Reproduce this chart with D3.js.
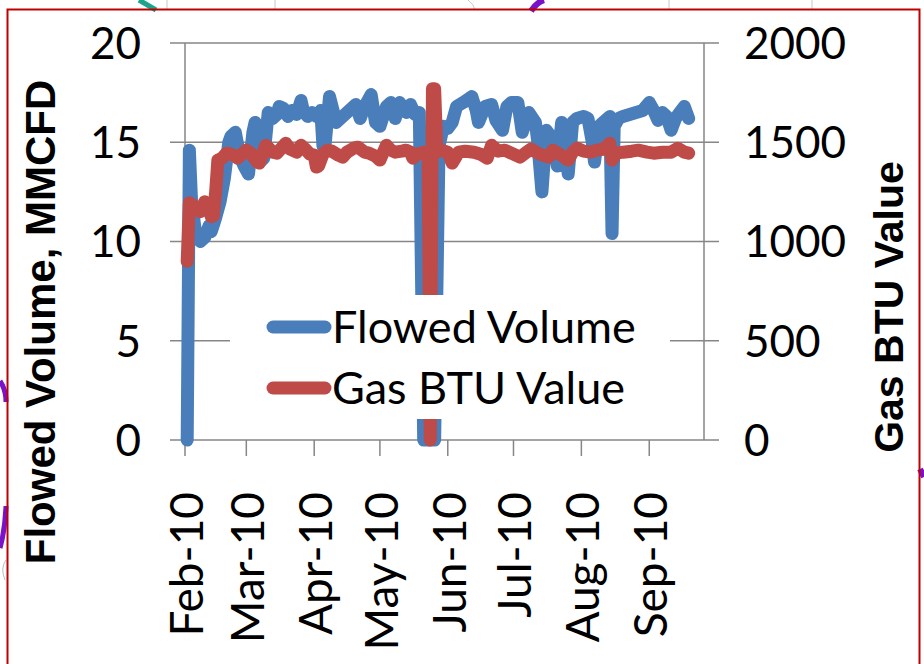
<!DOCTYPE html>
<html>
<head>
<meta charset="utf-8">
<script src="https://cdn.jsdelivr.net/npm/d3@7"></script>
<style>
  html, body { margin: 0; padding: 0; background: #fff; }
  svg { display: block; }
</style>
</head>
<body>
<svg id="chart" width="924" height="664"></svg>
<script>
// ---------------- DATA ----------------
const seriesNames = ["Flowed Volume", "Gas BTU Value"];
const leftTicks = [0, 5, 10, 15, 20];
const rightTicks = [0, 500, 1000, 1500, 2000];
const monthTicks = ["2010-02-01","2010-03-01","2010-04-01","2010-05-01","2010-06-01","2010-07-01","2010-08-01","2010-09-01"];
const xDomain = ["2010-02-01", "2010-09-26"];

const volumeDates = ["2010-02-02","2010-02-03","2010-02-04","2010-02-06","2010-02-08","2010-02-10","2010-02-12","2010-02-13","2010-02-15","2010-02-17","2010-02-19","2010-02-21","2010-02-22","2010-02-24","2010-02-26","2010-02-28","2010-03-02","2010-03-04","2010-03-05","2010-03-07","2010-03-09","2010-03-11","2010-03-13","2010-03-15","2010-03-16","2010-03-18","2010-03-20","2010-03-22","2010-03-24","2010-03-26","2010-03-27","2010-03-29","2010-03-31","2010-04-02","2010-04-04","2010-04-05","2010-04-06","2010-04-08","2010-04-11","2010-04-14","2010-04-17","2010-04-20","2010-04-22","2010-04-24","2010-04-27","2010-04-29","2010-05-01","2010-05-04","2010-05-06","2010-05-08","2010-05-10","2010-05-13","2010-05-15","2010-05-17","2010-05-19","2010-05-21","2010-05-26","2010-05-28","2010-05-30","2010-06-01","2010-06-03","2010-06-05","2010-06-08","2010-06-12","2010-06-14","2010-06-15","2010-06-18","2010-06-21","2010-06-23","2010-06-26","2010-06-28","2010-06-30","2010-07-03","2010-07-05","2010-07-08","2010-07-11","2010-07-12","2010-07-14","2010-07-16","2010-07-18","2010-07-20","2010-07-21","2010-07-23","2010-07-25","2010-07-26","2010-07-28","2010-07-30","2010-08-02","2010-08-04","2010-08-06","2010-08-07","2010-08-09","2010-08-11","2010-08-14","2010-08-15","2010-08-16","2010-08-18","2010-08-20","2010-08-23","2010-08-26","2010-08-29","2010-09-01","2010-09-03","2010-09-05","2010-09-07","2010-09-09","2010-09-11","2010-09-13","2010-09-15","2010-09-17","2010-09-19"];
const volumeValues = [0,14.6,12.0,10.3,10.0,10.2,10.8,10.5,11.2,12.0,13.2,15.0,15.3,15.5,14.3,13.8,13.4,15.5,16.0,14.0,14.2,16.5,16.2,16.4,16.8,16.7,16.3,16.6,16.4,17.1,16.6,16.3,16.5,16.3,16.6,14.8,14.9,17.3,16.0,16.3,16.6,16.9,16.2,16.8,17.4,16.0,15.8,16.8,17.0,16.2,17.0,16.5,16.9,16.4,16.5,0,0,14.8,15.8,15.7,16.0,16.8,17.0,17.3,16.6,16.0,16.8,16.9,16.1,15.6,16.8,17.0,17.0,15.5,16.5,16.0,15.1,12.5,15.6,15.3,15.0,13.8,16.0,14.5,13.4,16.0,16.2,16.3,16.2,15.0,14.0,15.8,16.0,16.3,10.4,15.8,16.2,16.3,16.4,16.5,16.6,17.0,16.6,16.1,16.5,16.3,15.6,16.2,16.5,16.8,16.2];

const btuDates = ["2010-02-02","2010-02-03","2010-02-05","2010-02-07","2010-02-08","2010-02-10","2010-02-12","2010-02-13","2010-02-14","2010-02-15","2010-02-16","2010-02-18","2010-02-20","2010-02-22","2010-02-24","2010-02-25","2010-02-27","2010-03-01","2010-03-03","2010-03-06","2010-03-07","2010-03-09","2010-03-10","2010-03-13","2010-03-15","2010-03-17","2010-03-19","2010-03-21","2010-03-24","2010-03-26","2010-03-28","2010-03-30","2010-04-01","2010-04-02","2010-04-03","2010-04-05","2010-04-07","2010-04-09","2010-04-12","2010-04-14","2010-04-16","2010-04-19","2010-04-21","2010-04-24","2010-04-26","2010-04-29","2010-05-01","2010-05-04","2010-05-06","2010-05-08","2010-05-11","2010-05-13","2010-05-15","2010-05-16","2010-05-18","2010-05-21","2010-05-23","2010-05-24","2010-05-25","2010-05-26","2010-05-27","2010-05-29","2010-06-01","2010-06-03","2010-06-06","2010-06-09","2010-06-13","2010-06-16","2010-06-19","2010-06-21","2010-06-24","2010-06-27","2010-07-01","2010-07-04","2010-07-07","2010-07-09","2010-07-13","2010-07-17","2010-07-19","2010-07-22","2010-07-26","2010-07-28","2010-07-30","2010-08-02","2010-08-05","2010-08-08","2010-08-11","2010-08-14","2010-08-15","2010-08-17","2010-08-20","2010-08-24","2010-08-27","2010-08-31","2010-09-03","2010-09-07","2010-09-11","2010-09-14","2010-09-17","2010-09-19"];
const btuValues = [900,1195,1180,1160,1150,1200,1160,1125,1130,1250,1410,1420,1445,1440,1430,1420,1440,1460,1445,1400,1395,1460,1485,1450,1445,1470,1495,1465,1450,1485,1465,1440,1435,1375,1380,1440,1460,1455,1435,1425,1450,1470,1475,1450,1445,1430,1410,1485,1460,1450,1455,1460,1450,1420,1440,1450,1445,0,1770,1770,1450,1460,1450,1395,1450,1455,1450,1440,1420,1485,1455,1460,1440,1425,1450,1465,1440,1425,1460,1440,1410,1450,1470,1455,1450,1460,1465,1495,1410,1445,1450,1455,1460,1450,1445,1450,1450,1470,1450,1445];

// ---------------- CHART ----------------
const svg = d3.select("#chart");
const parse = d3.utcParse("%Y-%m-%d");
const W = 924, H = 664;
const plot = { left: 185, right: 704, top: 43, bottom: 440 };
const blue = "#4a7ebb", red = "#be4b48", grid = "#868686";
const labelFont = "Lato, 'Open Sans', sans-serif";
const titleFont = "'Liberation Sans', Arial, sans-serif";
const lineW = 13;

const x = d3.scaleUtc().domain(xDomain.map(parse)).range([plot.left, plot.right]);
const yL = d3.scaleLinear().domain([0, 20]).range([plot.bottom, plot.top]);
const yR = d3.scaleLinear().domain([0, 2000]).range([plot.bottom, plot.top]);

svg.append("rect").attr("width", W).attr("height", H).attr("fill", "#fff");

// background decorations (pieces of neighbouring slide content)
const deco = svg.append("g").attr("fill", "none");
[167, 275, 669, 812].forEach(px => deco.append("line").attr("x1", px).attr("x2", px).attr("y1", 0).attr("y2", 10).attr("stroke", "#c8c8c8").attr("stroke-width", 1));
deco.append("path").attr("d", "M468,0 Q474,4 475,10").attr("stroke", "#c8c8c8").attr("stroke-width", 1);
deco.append("path").attr("d", "M139,0 L156,10").attr("stroke", "#1aa58c").attr("stroke-width", 5);
deco.append("path").attr("d", "M531,11 Q537,2 544,0").attr("stroke", "#7a12c6").attr("stroke-width", 6);
deco.append("path").attr("d", "M0,381 Q6,390 6,402").attr("stroke", "#7a12c6").attr("stroke-width", 5);
deco.append("path").attr("d", "M6,506 Q5,530 0,548").attr("stroke", "#7a12c6").attr("stroke-width", 5);
deco.append("path").attr("d", "M6,560 Q0,568 5,580").attr("stroke", "#bbbbbb").attr("stroke-width", 1);
deco.append("path").attr("d", "M920,469 L924,477").attr("stroke", "#7a12c6").attr("stroke-width", 6);

// frame
svg.append("path")
  .attr("d", `M7.5,${H + 2} V9.5 H919.5 V${H + 2}`)
  .attr("fill", "none").attr("stroke", "#c00000").attr("stroke-width", 2);

// horizontal gridlines with outward ticks on both sides
svg.append("g").selectAll("line").data(leftTicks).join("line")
  .attr("x1", plot.left - 15).attr("x2", plot.right + 15)
  .attr("y1", d => yL(d)).attr("y2", d => yL(d))
  .attr("stroke", grid).attr("stroke-width", 1.5);

// vertical axes
svg.append("line").attr("x1", plot.left).attr("x2", plot.left).attr("y1", plot.top).attr("y2", plot.bottom)
  .attr("stroke", grid).attr("stroke-width", 1.5);
svg.append("line").attr("x1", plot.right).attr("x2", plot.right).attr("y1", plot.top).attr("y2", plot.bottom)
  .attr("stroke", grid).attr("stroke-width", 1.5);

// x-axis month ticks
const monthDates = monthTicks.map(parse);
svg.append("g").selectAll("line").data(monthDates).join("line")
  .attr("x1", d => x(d)).attr("x2", d => x(d))
  .attr("y1", plot.bottom).attr("y2", plot.bottom + 16)
  .attr("stroke", grid).attr("stroke-width", 1.5);

// left tick labels
svg.append("g").selectAll("text").data(leftTicks).join("text")
  .attr("x", 141).attr("y", d => yL(d)).attr("dy", "0.36em")
  .attr("text-anchor", "end")
  .attr("font-family", labelFont).attr("font-size", 44).attr("fill", "#000")
  .text(d => d);

// right tick labels
svg.append("g").selectAll("text").data(rightTicks).join("text")
  .attr("x", 744).attr("y", d => yR(d)).attr("dy", "0.36em")
  .attr("text-anchor", "start")
  .attr("font-family", labelFont).attr("font-size", 44).attr("fill", "#000")
  .text(d => d);

// month labels (rotated)
const fmt = d3.utcFormat("%b-%y");
svg.append("g").selectAll("text").data(monthDates).join("text")
  .attr("transform", d => `translate(${x(d) + 18},492) rotate(-90)`)
  .attr("text-anchor", "end")
  .attr("font-family", labelFont).attr("font-size", 46).attr("fill", "#000")
  .text(d => fmt(d));

// axis titles
svg.append("text")
  .attr("transform", "translate(55,322) rotate(-90)")
  .attr("text-anchor", "middle")
  .attr("font-family", titleFont).attr("font-weight", "bold").attr("font-size", 42)
  .text("Flowed Volume, MMCFD");
svg.append("text")
  .attr("transform", "translate(903,307) rotate(-90)")
  .attr("text-anchor", "middle")
  .attr("font-family", titleFont).attr("font-weight", "bold").attr("font-size", 41)
  .text("Gas BTU Value");

// series
const volData = volumeDates.map((d, i) => ({ date: parse(d), v: volumeValues[i] }));
const btuData = btuDates.map((d, i) => ({ date: parse(d), v: btuValues[i] }));

svg.append("path").datum(volData)
  .attr("d", d3.line().x(d => x(d.date)).y(d => yL(d.v)))
  .attr("fill", "none").attr("stroke", blue).attr("stroke-width", lineW)
  .attr("stroke-linejoin", "round").attr("stroke-linecap", "round");

svg.append("path").datum(btuData)
  .attr("d", d3.line().x(d => x(d.date)).y(d => yR(d.v)))
  .attr("fill", "none").attr("stroke", red).attr("stroke-width", lineW)
  .attr("stroke-linejoin", "round").attr("stroke-linecap", "round");

// legend
const lg = svg.append("g");
lg.append("rect").attr("x", 230).attr("y", 295).attr("width", 440).attr("height", 124).attr("fill", "#fff");
const items = lg.selectAll("g").data(seriesNames).join("g")
  .attr("transform", (d, i) => `translate(0,${327 + i * 61})`);
items.append("line").attr("x1", 273).attr("x2", 325).attr("y1", 0).attr("y2", 0)
  .attr("stroke", (d, i) => i === 0 ? blue : red).attr("stroke-width", lineW).attr("stroke-linecap", "round");
items.append("text").attr("x", 332).attr("y", 0).attr("dy", "0.36em")
  .attr("font-family", labelFont).attr("font-size", 45).attr("fill", "#000")
  .text(d => d);
</script>
</body>
</html>
